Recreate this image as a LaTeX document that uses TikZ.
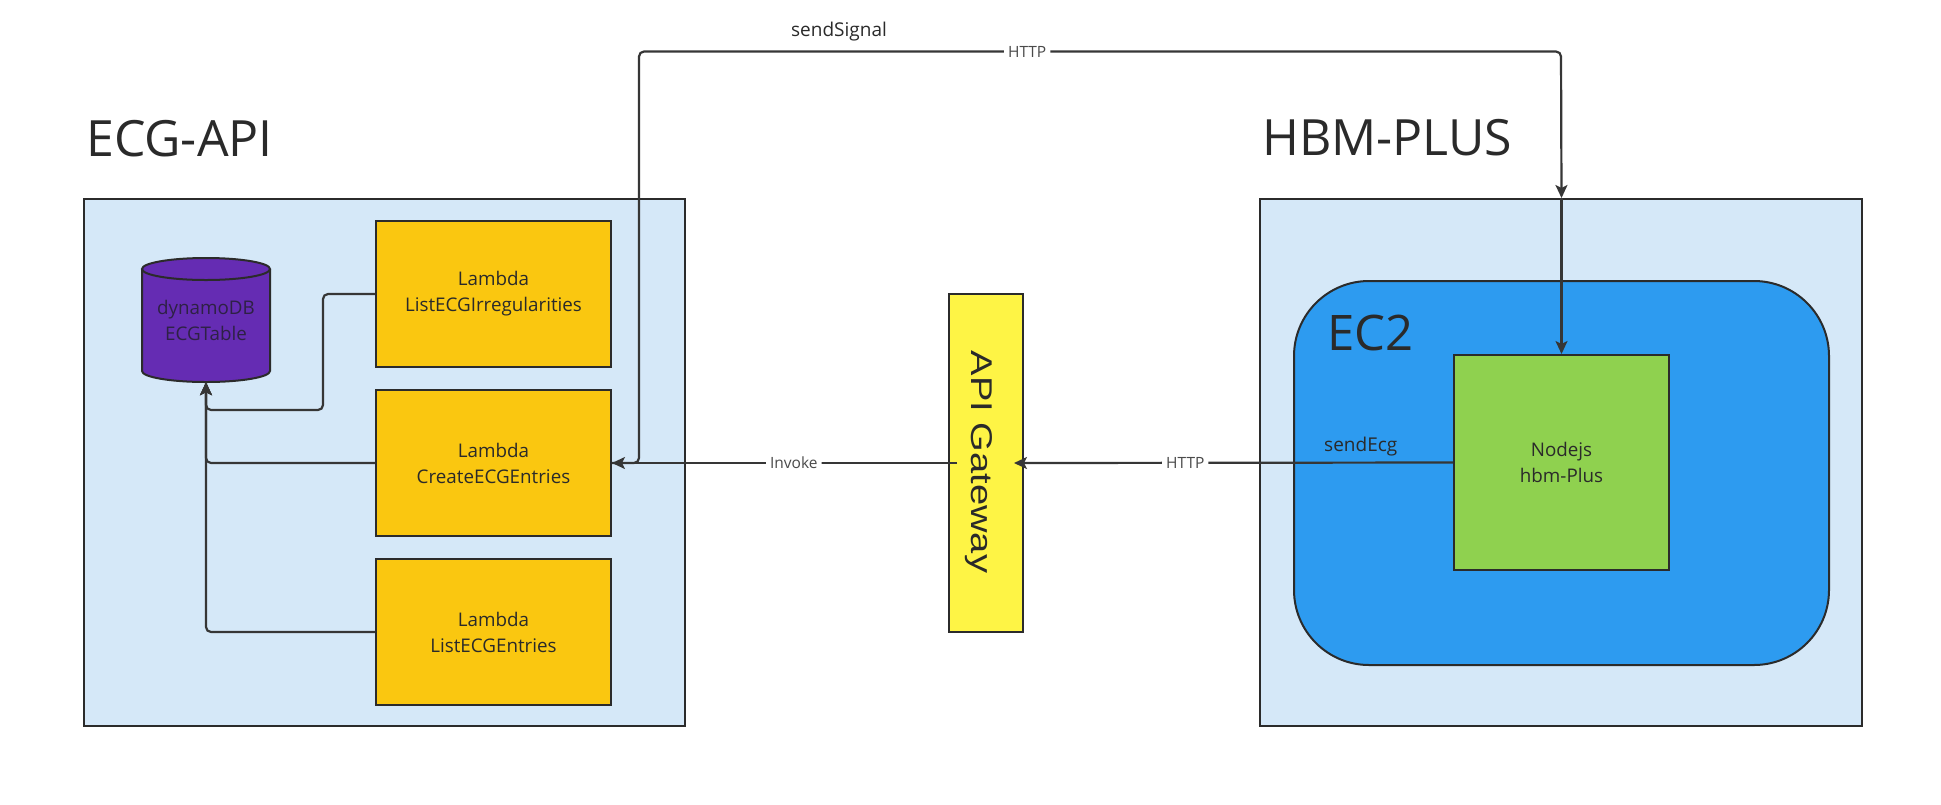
\documentclass[tikz,border=0pt]{standalone}
\usepackage{fontspec}
\setmainfont{Open Sans}
\newfontfamily\gwfont{Liberation Sans}
\usetikzlibrary{arrows.meta}
\definecolor{contblue}{HTML}{D5E8F8}
\definecolor{lamyellow}{HTML}{FAC710}
\definecolor{gwyellow}{HTML}{FEF445}
\definecolor{ectwo}{HTML}{2D9BF0}
\definecolor{nodegreen}{HTML}{8FD14F}
\definecolor{cylpurple}{HTML}{652CB3}
\definecolor{boxline}{HTML}{2B2B2B}
\definecolor{linecol}{HTML}{363636}
\definecolor{lblcol}{HTML}{4A4A4A}
\definecolor{textdark}{HTML}{2A2A2A}
\definecolor{cyltext}{HTML}{2E2145}
\begin{document}
\begin{tikzpicture}[x=1pt,y=-1pt,
  every node/.style={inner sep=0pt},
  container/.style={draw=boxline, fill=contblue, line width=2pt},
  lambdabox/.style={draw=boxline, fill=lamyellow, line width=2pt, minimum width=235pt, minimum height=146pt, align=center, font=\fontsize{18.8}{26}\selectfont, text=textdark},
  conn/.style={draw=linecol, line width=2.2pt, rounded corners=5pt},
  arr/.style={-{Stealth[length=13pt,width=12pt,inset=3pt]}},
  lbl/.style={fill=white, inner xsep=4pt, inner ysep=2pt, text=lblcol, font=\fontsize{15.5}{18}\selectfont},
  title/.style={anchor=base west, text=textdark, font=\fontsize{50}{60}\selectfont},
  smalltxt/.style={text=textdark, font=\fontsize{19}{24}\selectfont}
]
\useasboundingbox[fill=white] (0,0) rectangle (1941,804);

% titles
\node[title] (ecgtitle) at (86,156) {ECG-API};
\node[title] (hbmtitle) at (1262,155) {HBM-PLUS};

% containers
\node[container, minimum width=601pt, minimum height=527pt] (lcont) at (384.5,462.5) {};
\node[container, minimum width=602pt, minimum height=527pt] (rcont) at (1561,462.5) {};

% cylinder (dynamoDB)
\fill[cylpurple] (142,269) -- (142,371) arc[start angle=180, end angle=360, x radius=64pt, y radius=11pt] -- (270,269) arc[start angle=0, end angle=180, x radius=64pt, y radius=11pt] -- cycle;
\draw[boxline, line width=2pt] (142,269) -- (142,371) arc[start angle=180, end angle=360, x radius=64pt, y radius=11pt] -- (270,269);
\draw[boxline, line width=2pt] (206,269) ellipse [x radius=64pt, y radius=11pt];
\node[minimum width=128pt, minimum height=124pt, align=center, text=cyltext, font=\fontsize{18.8}{26}\selectfont] (cyl) at (206,320) {dynamoDB\\ECGTable};

% lambdas
\node[lambdabox] (lam1) at (493.5,294) {Lambda\\ListECGIrregularities};
\node[lambdabox] (lam2) at (493.5,463) {Lambda\\CreateECGEntries};
\node[lambdabox] (lam3) at (493.5,632) {Lambda\\ListECGEntries};

% API gateway
\node[draw=boxline, fill=gwyellow, line width=2pt, minimum width=74pt, minimum height=338pt] (gw) at (986,463) {};
\node[rotate=-90, text=textdark] (gwtext) at (979,462) {\gwfont\fontsize{30}{36}\selectfont\scalebox{1.27}[1]{API Gateway}};

% EC2
\node[draw=boxline, fill=ectwo, line width=2pt, rounded corners=75pt, minimum width=535pt, minimum height=384pt] (ec2) at (1561.5,473) {};
\node[anchor=base west, text=textdark, font=\fontsize{49}{58}\selectfont] (ec2title) at (1327,350) {EC2};

% Nodejs
\node[draw=boxline, fill=nodegreen, line width=2pt, minimum width=215pt, minimum height=215pt, align=center, text=textdark, font=\fontsize{18.8}{26}\selectfont] (nodejs) at (1561.5,462.5) {Nodejs\\hbm-Plus};

% connectors to dynamoDB
\draw[conn,arr] (lam1.west) -- (323,294) -- (323,410) -- (206,410) -- (cyl.south);
\draw[conn,arr] (lam2.west) -- (206,463) -- (cyl.south);
\draw[conn,arr] (lam3.west) -- (206,632) -- (cyl.south);

% sendSignal route
\draw[conn,arr] (lam2.east) -- (639,463) -- (639,51.5) -- node[lbl,pos=0.421] (http1) {HTTP} (1561,51.5) -- (nodejs.north |- rcont.north);
\draw[conn,arr] (nodejs.north |- rcont.north) -- (nodejs.north);
\node[smalltxt, anchor=base] (sendsignal) at (839,36) {sendSignal};

% sendEcg route
\draw[conn,arr,shorten >=-10pt] (nodejs.west) -- node[lbl,pos=0.624] (http2) {HTTP} (gw.east);
\node[smalltxt, anchor=base west] (sendecg) at (1324,451) {sendEcg};

% invoke
\draw[conn,arr,shorten <=-9pt] (gw.west) -- node[lbl,pos=0.459] (invoke) {Invoke} (lam2.east);
\end{tikzpicture}
\end{document}
